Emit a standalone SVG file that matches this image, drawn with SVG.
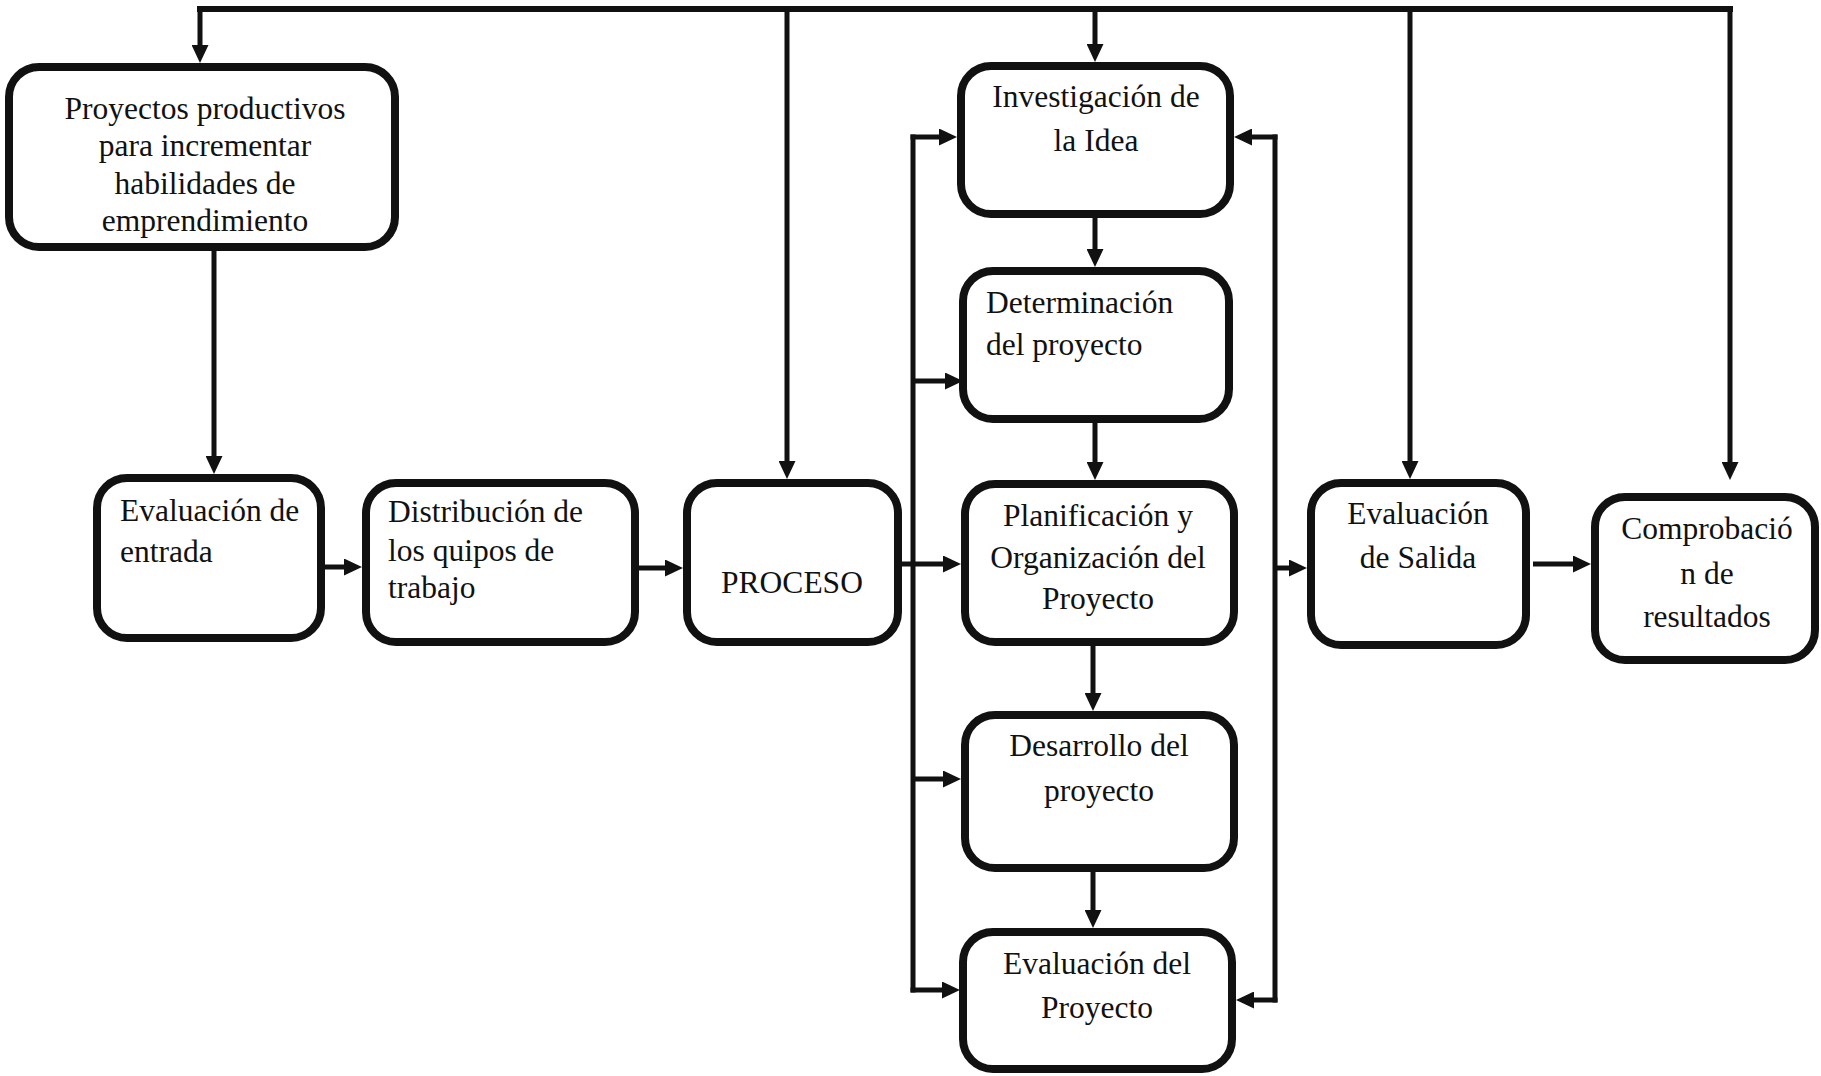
<svg xmlns="http://www.w3.org/2000/svg" width="1821" height="1076" viewBox="0 0 1821 1076">
<style>
.box{fill:#fff;stroke:#111;stroke-width:8}
.t{font-family:"Liberation Serif","Times New Roman",serif;font-size:31.5px;fill:#111}
.c{text-anchor:middle}
.ln{stroke:#111;stroke-width:5;fill:none}
.ar{stroke:#111;stroke-width:5;fill:none;marker-end:url(#ah)}
.top{stroke:#111;stroke-width:6;fill:none}
</style>
<defs>
<marker id="ah" viewBox="0 0 18 17" refX="12" refY="8.5" markerWidth="18" markerHeight="17" markerUnits="userSpaceOnUse" orient="auto">
<path d="M0,0 L18,8.5 L0,17 z" fill="#111"/>
</marker>
</defs>
<rect width="1821" height="1076" fill="#fff"/>
<g id="connectors">
<line class="top" x1="197" y1="9" x2="1733" y2="9"/>
<line class="ar" x1="200" y1="9" x2="200" y2="57"/>
<line class="ar" x1="787" y1="9" x2="787" y2="473"/>
<line class="ar" x1="1095" y1="9" x2="1095" y2="56"/>
<line class="ar" x1="1410" y1="9" x2="1410" y2="473"/>
<line class="ar" x1="1730" y1="9" x2="1730" y2="474"/>
<line class="ar" x1="214" y1="251" x2="214" y2="468"/>
<line class="ar" x1="325" y1="567" x2="356" y2="567"/>
<line class="ar" x1="639" y1="568" x2="677" y2="568"/>
<line class="ar" x1="902" y1="564" x2="955" y2="564"/>
<line class="ar" x1="1095" y1="218" x2="1095" y2="261"/>
<line class="ar" x1="1095" y1="423" x2="1095" y2="474"/>
<line class="ar" x1="1093" y1="646" x2="1093" y2="705"/>
<line class="ar" x1="1093" y1="872" x2="1093" y2="922"/>
<line class="ln" x1="913" y1="134.5" x2="913" y2="992.5"/>
<line class="ar" x1="910.5" y1="137" x2="951" y2="137"/>
<line class="ar" x1="913" y1="381" x2="957" y2="381"/>
<line class="ar" x1="913" y1="779" x2="955" y2="779"/>
<line class="ar" x1="910.5" y1="990" x2="954" y2="990"/>
<line class="ln" x1="1275" y1="134.5" x2="1275" y2="1002.5"/>
<line class="ar" x1="1277.5" y1="137" x2="1240" y2="137"/>
<line class="ar" x1="1275" y1="568" x2="1301" y2="568"/>
<line class="ar" x1="1277.5" y1="1000" x2="1242" y2="1000"/>
<line class="ar" x1="1533" y1="564" x2="1585" y2="564"/>
</g>
<g id="n1"><rect class="box" x="9" y="67" width="386" height="180" rx="30"/>
<text class="t c" x="205"><tspan x="205" y="119">Proyectos productivos</tspan><tspan x="205" y="156">para incrementar</tspan><tspan x="205" y="194">habilidades de</tspan><tspan x="205" y="231">emprendimiento</tspan></text></g>
<g id="n2"><rect class="box" x="97" y="478" width="224" height="160" rx="30"/>
<text class="t"><tspan x="120" y="521">Evaluación de</tspan><tspan x="120" y="562">entrada</tspan></text></g>
<g id="n3"><rect class="box" x="366" y="483" width="269" height="159" rx="30"/>
<text class="t"><tspan x="388" y="522">Distribución de</tspan><tspan x="388" y="561">los quipos de</tspan><tspan x="388" y="598">trabajo</tspan></text></g>
<g id="n4"><rect class="box" x="687" y="483" width="211" height="159" rx="30"/>
<text class="t c" x="792" y="593">PROCESO</text></g>
<g id="n5"><rect class="box" x="961" y="66" width="269" height="148" rx="30"/>
<text class="t c"><tspan x="1096" y="107">Investigación de</tspan><tspan x="1096" y="151">la Idea</tspan></text></g>
<g id="n6"><rect class="box" x="963" y="271" width="266" height="148" rx="30"/>
<text class="t"><tspan x="986" y="313">Determinación</tspan><tspan x="986" y="355">del proyecto</tspan></text></g>
<g id="n7"><rect class="box" x="965" y="484" width="269" height="158" rx="30"/>
<text class="t c"><tspan x="1098" y="526">Planificación y</tspan><tspan x="1098" y="568">Organización del</tspan><tspan x="1098" y="609">Proyecto</tspan></text></g>
<g id="n8"><rect class="box" x="965" y="715" width="269" height="153" rx="30"/>
<text class="t c"><tspan x="1099" y="756">Desarrollo del</tspan><tspan x="1099" y="801">proyecto</tspan></text></g>
<g id="n9"><rect class="box" x="963" y="932" width="269" height="137" rx="30"/>
<text class="t c"><tspan x="1097" y="974">Evaluación del</tspan><tspan x="1097" y="1018">Proyecto</tspan></text></g>
<g id="n10"><rect class="box" x="1311" y="483" width="215" height="162" rx="30"/>
<text class="t c"><tspan x="1418" y="524">Evaluación</tspan><tspan x="1418" y="568">de Salida</tspan></text></g>
<g id="n11"><rect class="box" x="1595" y="497" width="220" height="163" rx="30"/>
<text class="t c"><tspan x="1707" y="539">Comprobació</tspan><tspan x="1707" y="584">n de</tspan><tspan x="1707" y="627">resultados</tspan></text></g>
</svg>
